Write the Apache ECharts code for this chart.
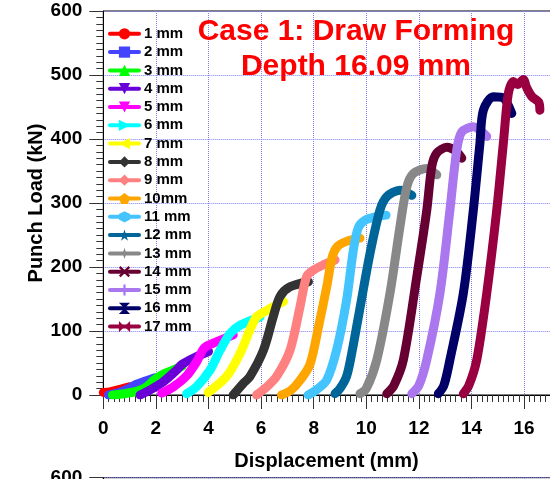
<!DOCTYPE html>
<html><head><meta charset="utf-8">
<script src="https://cdn.jsdelivr.net/npm/echarts@6/dist/echarts.min.js"></script>
<style>html,body{margin:0;padding:0;background:#fff}#c{width:550px;height:479px}</style>
</head><body><div id="c"></div>
<script>
// ---- data (displacement mm, punch load kN) ----
const seriesNames = ['1 mm','2 mm','3 mm','4 mm','5 mm','6 mm','7 mm','8 mm','9 mm','10mm','11 mm','12 mm','13 mm','14 mm','15 mm','16 mm','17 mm'];
const d1 = [[0,4],[0.25,5],[0.64,9],[1.02,13]];
const d2 = [[0.2,0],[0.6,4],[1.0,11],[1.27,17],[1.6,22],[1.97,27]];
const d3 = [[0.35,0],[0.8,2],[1.3,6],[1.65,13],[1.95,24],[2.2,31],[2.6,38],[3.0,45]];
const d4 = [[1.4,0],[1.78,8],[2.29,21],[2.79,39],[3.0,48],[3.5,59],[4.0,68]];
const d5 = [[2.22,3],[2.67,13],[3.17,30],[3.55,52],[3.85,74],[4.3,83],[4.94,94]];
const d6 = [[3.17,2],[3.55,13],[4.06,39],[4.44,70],[4.82,96],[5.2,109],[5.96,122]];
const d7 = [[3.99,4],[4.69,29],[5.2,65],[5.58,102],[5.83,122],[6.3,134],[6.85,146]];
const d8 = [[4.94,0],[5.32,18],[5.58,29],[6.09,70],[6.46,122],[6.72,154],[7.1,169],[7.8,177]];
const d9 = [[5.83,0],[6.2,12],[6.59,29],[7.1,70],[7.48,138],[7.73,185],[7.98,195],[8.4,204],[8.81,211]];
const d10 = [[6.78,0],[7.15,8],[7.5,24],[7.86,48],[8.2,110],[8.5,170],[8.7,215],[8.9,232],[9.25,240],[9.76,245]];
const d11 = [[7.79,0],[8.1,8],[8.49,23],[8.87,70],[9.25,148],[9.51,227],[9.7,262],[9.95,273],[10.3,278],[10.75,281]];
const d12 = [[8.81,2],[9.0,10],[9.25,29],[9.45,66],[9.8,145],[10.14,221],[10.52,289],[10.78,310],[11.28,320],[11.73,312]];
const d13 = [[9.76,2],[10.0,10],[10.4,55],[10.9,159],[11.28,263],[11.54,325],[11.79,346],[12.3,354],[12.68,344]];
const d14 = [[10.78,2],[11.05,15],[11.41,55],[11.92,185],[12.3,289],[12.49,357],[12.68,378],[13.06,387],[13.44,380],[13.63,370]];
const d15 = [[11.73,2],[12.0,15],[12.3,55],[12.8,159],[13.18,289],[13.44,383],[13.63,411],[14.07,419],[14.58,404]];
const d16 = [[12.74,2],[12.95,15],[13.18,55],[13.69,159],[14.07,289],[14.32,393],[14.45,445],[14.83,466],[15.21,464],[15.53,440]];
const d17 = [[13.69,2],[13.9,15],[14.2,55],[14.58,159],[14.96,289],[15.21,393],[15.4,471],[15.59,490],[15.75,485],[15.97,493],[16.1,480],[16.3,466],[16.55,458],[16.6,445]];
const allData = [d1,d2,d3,d4,d5,d6,d7,d8,d9,d10,d11,d12,d13,d14,d15,d16,d17];
const xMin = 0, xMax = 18, xStep = 2;
const yMin = 0, yMax = 600, yStep = 100;
const titleLines = ['Case 1: Draw Forming', 'Depth 16.09 mm'];

// ---- styles ----
const colors = ['#ff0000','#4444ff','#00ff00','#6a00d8','#ff00ff','#00ffff','#ffff00','#333333','#ff8080','#ffa500','#44c4ff','#006699','#888888','#660033','#aa77ee','#000066','#990040'];
const symbols = [
  'circle','rect','triangle',
  'path://M0,0L10,0L5,9Z',
  'path://M0,0L10,0L5,9Z',
  'path://M0,0L9,5L0,10Z',
  'path://M12,0L0,5L12,10Z',
  'path://M5,0L6.5,5L5,10L3.5,5Z',
  'diamond',
  'path://M5,0L10,3.8L8.1,10L1.9,10L0,3.8Z',
  'path://M5,0L9.33,2.5L9.33,7.5L5,10L0.67,7.5L0.67,2.5Z',
  'path://M5,0L6.2,3.6L10,3.6L6.9,5.9L8.1,9.5L5,7.3L1.9,9.5L3.1,5.9L0,3.6L3.8,3.6Z',
  'path://M5,0L6.2,3.8L10,5L6.2,6.2L5,10L3.8,6.2L0,5L3.8,3.8Z',
  'path://M0,1.5L1.5,0L5,3.5L8.5,0L10,1.5L6.5,5L10,8.5L8.5,10L5,6.5L1.5,10L0,8.5L3.5,5Z',
  'path://M4,0H6V4H10V6H6V10H4V6H0V4H4Z',
  'path://M0,0L10,0L5,5L10,10L0,10L5,5Z',
  'path://M0,0L5,5L0,10Z M10,0L5,5L10,10Z'
];
const FONT = '"Liberation Sans", Arial, Helvetica, sans-serif';
const PX_PER_MM = 26.3;
const gridLeft = 103.3, gridW = (xMax - xMin) * PX_PER_MM;

const chart = echarts.init(document.getElementById('c'), null, {renderer: 'canvas'});
const splitStyle = {show: true, lineStyle: {color: '#8080ff', width: 1, type: 'dotted'}};
const tickStyle = {color: '#333', width: 1};

const series = allData.map((d, i) => ({
  name: seriesNames[i],
  type: 'line',
  xAxisIndex: 0, yAxisIndex: 0,
  data: d,
  symbol: symbols[i],
  showSymbol: false,
  smooth: 0.3,
  lineStyle: {width: 9, color: colors[i], cap: 'round', join: 'round'},
  itemStyle: {color: colors[i]},
  emphasis: {disabled: true},
  silent: true
}));

chart.setOption({
  animation: false,
  backgroundColor: '#fff',
  title: {
    text: titleLines.join('\n'),
    left: 356, top: 14, textAlign: 'center', padding: 0,
    textStyle: {color: '#ff0000', fontSize: 30, fontWeight: 'bold', lineHeight: 35, fontFamily: FONT}
  },
  legend: {
    data: seriesNames,
    orient: 'vertical',
    left: 108, top: 26.3, padding: 0,
    itemWidth: 29, itemHeight: 14, itemGap: 3.3,
    selectedMode: false,
    lineStyle: {width: 4},
    textStyle: {fontSize: 15, fontWeight: 'bold', color: '#000', fontFamily: FONT}
  },
  grid: [
    {left: gridLeft, top: 11, width: gridW, height: 384, show: true, borderColor: '#000', borderWidth: 1, backgroundColor: 'transparent', containLabel: false, outerBoundsMode: 'none'},
    {left: gridLeft, top: 477.7, width: gridW, height: 384, show: true, borderColor: '#000', borderWidth: 1, containLabel: false, outerBoundsMode: 'none'}
  ],
  xAxis: [
    {
      gridIndex: 0, type: 'value', min: xMin, max: xMax, interval: xStep,
      name: 'Displacement (mm)', nameLocation: 'middle', nameGap: 56, nameMoveOverlap: false,
      nameTextStyle: {fontSize: 20, fontWeight: 'bold', color: '#000', fontFamily: FONT, padding: [0, 27, 0, 0]},
      axisLine: {show: true, lineStyle: {color: '#000', width: 1}},
      axisTick: {show: true, inside: false, length: 14, lineStyle: tickStyle},
      minorTick: {show: true, splitNumber: 10, length: 7, lineStyle: tickStyle},
      axisLabel: {margin: 24, fontSize: 19, fontWeight: 'bold', color: '#000', fontFamily: FONT},
      splitLine: splitStyle
    },
    {
      gridIndex: 1, type: 'value', min: xMin, max: xMax, interval: xStep,
      axisLine: {show: false}, axisTick: {show: false}, axisLabel: {show: false},
      splitLine: splitStyle
    }
  ],
  yAxis: [
    {
      gridIndex: 0, type: 'value', min: yMin, max: yMax, interval: yStep,
      name: 'Punch Load (kN)', nameLocation: 'middle', nameGap: 57, nameRotate: 90, nameMoveOverlap: false,
      nameTextStyle: {fontSize: 20, fontWeight: 'bold', color: '#000', fontFamily: FONT},
      axisLine: {show: true, lineStyle: {color: '#000', width: 1}},
      axisTick: {show: true, inside: false, length: 14, lineStyle: tickStyle},
      minorTick: {show: true, splitNumber: 10, length: 7, lineStyle: tickStyle},
      axisLabel: {margin: 21, fontSize: 19, fontWeight: 'bold', color: '#000', fontFamily: FONT},
      splitLine: splitStyle
    },
    {
      gridIndex: 1, type: 'value', min: yMin, max: yMax, interval: yStep,
      axisLine: {show: true, lineStyle: {color: '#000', width: 1}},
      axisTick: {show: true, inside: false, length: 14, lineStyle: tickStyle},
      minorTick: {show: true, splitNumber: 10, length: 7, lineStyle: tickStyle},
      axisLabel: {margin: 21, fontSize: 19, fontWeight: 'bold', color: '#000', fontFamily: FONT},
      splitLine: splitStyle
    }
  ],
  series: series
});
</script>
</body></html>
